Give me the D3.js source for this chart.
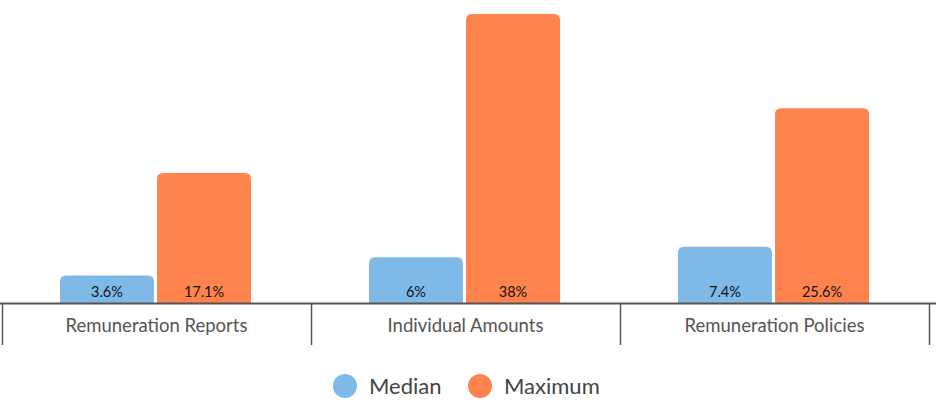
<!DOCTYPE html>
<html>
<head>
<meta charset="utf-8">
<script src="https://cdn.jsdelivr.net/npm/d3@7"></script>
<style>
  body { margin: 0; background: #fff; }
  text { font-family: "Lato", "Noto Sans", sans-serif; }
</style>
</head>
<body>
<div id="chart"></div>
<script>
var categories = ["Remuneration Reports", "Individual Amounts", "Remuneration Policies"];
var series = ["Median", "Maximum"];
var medianValues = [3.6, 6, 7.4];
var maximumValues = [17.1, 38, 25.6];
var valueLabels = [["3.6%", "6%", "7.4%"], ["17.1%", "38%", "25.6%"]];

var colours = {"Median": "#7fb9e8", "Maximum": "#ff834c"};

var w = 936, h = 402,
    axisY = 303;

var svg = d3.select("#chart").append("svg")
  .attr("width", w)
  .attr("height", h);

var data = categories.map(function(c, i){
  return {cat: c, values: [
    {key: "Median", v: medianValues[i], label: valueLabels[0][i]},
    {key: "Maximum", v: maximumValues[i], label: valueLabels[1][i]}
  ]};
});

var x0 = d3.scaleBand().domain(categories).range([2, 929]);
var x1 = d3.scaleBand().domain(series).range([58, 249]).paddingInner(0.032);
var y = d3.scaleLinear().domain([0, 38]).range([axisY, 14]);

// rounded top corners only
function barPath(x, yTop, bw, bh, r){
  r = Math.min(r, bh);
  return "M" + x + "," + (yTop + bh) +
    "V" + (yTop + r) +
    "Q" + x + "," + yTop + " " + (x + r) + "," + yTop +
    "H" + (x + bw - r) +
    "Q" + (x + bw) + "," + yTop + " " + (x + bw) + "," + (yTop + r) +
    "V" + (yTop + bh) + "Z";
}

var groups = svg.selectAll("g.group")
  .data(data)
  .enter().append("g")
  .attr("class", "group")
  .attr("transform", function(d){ return "translate(" + x0(d.cat) + ",0)"; });

groups.selectAll("path")
  .data(function(d){ return d.values; })
  .enter().append("path")
  .attr("fill", function(d){ return colours[d.key]; })
  .attr("d", function(d){
    return barPath(x1(d.key), y(d.v), x1.bandwidth(), axisY - y(d.v), 6);
  });

groups.selectAll("text.val")
  .data(function(d){ return d.values; })
  .enter().append("text")
  .attr("class", "val")
  .attr("x", function(d){ return x1(d.key) + x1.bandwidth() / 2; })
  .attr("y", axisY - 6)
  .attr("text-anchor", "middle")
  .attr("font-size", 14.5)
  .attr("fill", "#111")
  .text(function(d){ return d.label; });

// axis
svg.append("line")
  .attr("x1", 0).attr("x2", w)
  .attr("y1", axisY + 0.5).attr("y2", axisY + 0.5)
  .attr("stroke", "#555").attr("stroke-width", 2);

var ticks = categories.map(function(c){ return x0(c); }).concat([x0.range()[1]]);
svg.selectAll("line.tick")
  .data(ticks)
  .enter().append("line")
  .attr("class", "tick")
  .attr("x1", function(d){ return d + 0.5; })
  .attr("x2", function(d){ return d + 0.5; })
  .attr("y1", axisY).attr("y2", 345)
  .attr("stroke", "#555").attr("stroke-width", 1.5);

svg.selectAll("text.cat")
  .data(categories)
  .enter().append("text")
  .attr("class", "cat")
  .attr("x", function(d){ return x0(d) + x0.bandwidth() / 2; })
  .attr("y", 332)
  .attr("text-anchor", "middle")
  .attr("font-size", 18.5)
  .attr("fill", "#555")
  .text(function(d){ return d; });

// legend
var legendX = [345, 480];
var legend = svg.selectAll("g.legend")
  .data(series)
  .enter().append("g")
  .attr("class", "legend")
  .attr("transform", function(d, i){ return "translate(" + legendX[i] + ",386)"; });

legend.append("circle")
  .attr("r", 12)
  .attr("fill", function(d){ return colours[d]; });

legend.append("text")
  .attr("x", 24)
  .attr("y", 8)
  .attr("font-size", 22)
  .attr("fill", "#444")
  .text(function(d){ return d; });
</script>
</body>
</html>
